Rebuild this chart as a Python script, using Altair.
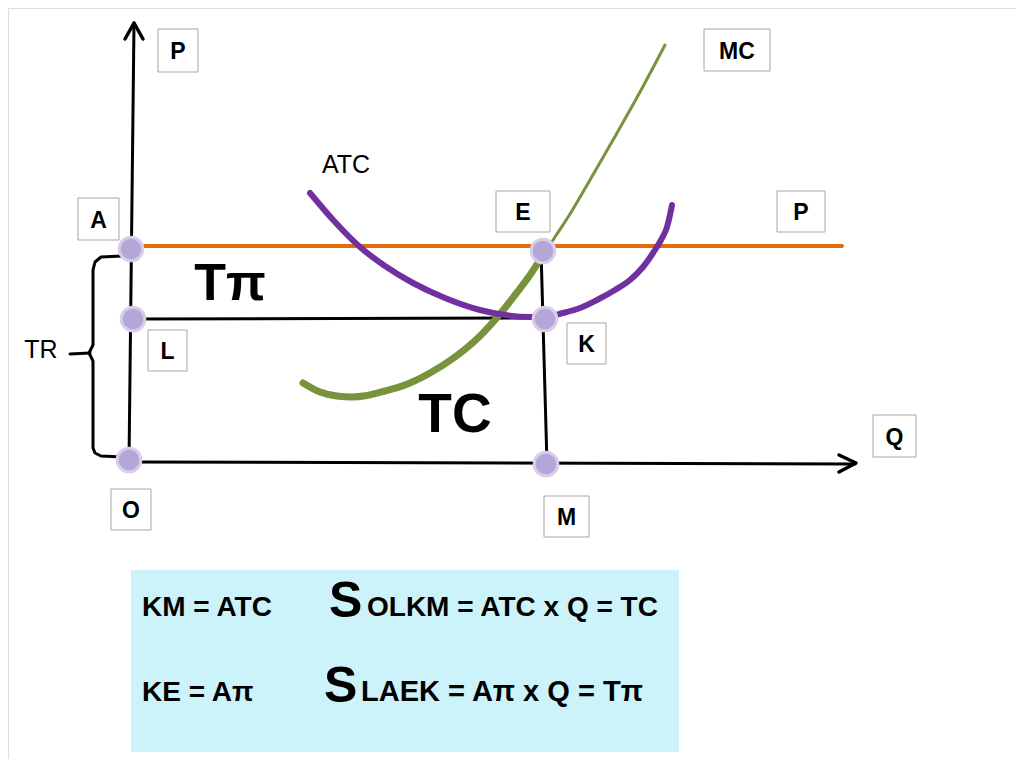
import altair as alt
import pandas as pd

# ---- geometry (pixel-like units, y grows downward) ----
line_ids = ["axis_y", "arrow_y", "axis_x", "arrow_x", "price", "LK", "EM", "brace", "brace_tip",
            "mc_low", "mc_high", "atc"]
line_x = [
    [129, 134],
    [125, 134, 143],
    [129, 855],
    [839, 856, 839],
    [131, 842],
    [133, 545],
    [541, 547],
    [122, 101, 95, 93, 93, 89, 93, 93, 95, 101, 122],
    [70, 90],
    [303, 320, 337, 352, 367, 385, 405, 430, 455, 480, 500, 515, 530, 543],
    [540, 555, 570, 590, 613, 640, 665],
    [310, 335, 360, 385, 413, 445, 480, 505, 530, 545, 563, 580, 597, 615, 630, 643, 653, 661, 667, 670, 672],
]
line_y = [
    [462, 23],
    [39, 23, 39],
    [462, 464],
    [455, 463, 472],
    [246, 246],
    [319, 318],
    [250, 464],
    [256, 257, 262, 270, 345, 353, 361, 448, 453, 456, 457],
    [354, 353],
    [383, 392, 396, 397, 395.5, 391, 385, 373, 357, 336, 314, 295, 275, 255],
    [260, 237, 214, 180, 140, 92, 45],
    [193, 222, 247, 266, 283, 298, 310, 315, 317, 317, 313, 308, 300, 290, 280, 267, 253, 240, 227, 215, 205],
]
line_color = ["#000000", "#000000", "#000000", "#000000", "#E46C0A", "#000000", "#000000", "#000000", "#000000",
              "#77933C", "#77933C", "#7030A0"]
line_width = [3, 3.5, 3, 3.5, 4, 3, 3, 3, 3, 7, 3, 6]

# marked points A, L, O, E, K, M
pt_names = ["A", "L", "O", "E", "K", "M"]
pt_x = [131, 133, 129, 543, 545, 546]
pt_y = [249, 319, 460, 251, 319, 464]

# boxed labels
box_labels = ["P", "MC", "P", "A", "L", "E", "K", "Q", "M", "O"]
box_x1 = [158, 704, 777, 78, 148, 496, 567, 873, 544, 111]
box_x2 = [198, 770, 825, 119, 187, 550, 606, 916, 589, 151]
box_y1 = [29, 29, 191, 198, 330, 191, 323, 415, 496, 489]
box_y2 = [72, 71, 232, 240, 371, 232, 364, 457, 537, 530]

# free text (y = baseline)
txt = ["Tπ", "TC", "ATC", "TR"]
txt_x = [230, 455, 346, 41]
txt_y = [300, 432, 173, 358]
txt_size = [52, 55, 25, 25]
txt_weight = ["bold", "bold", "normal", "normal"]

# formula panel (y = baseline)
panel_x = [131, 679]
panel_y = [570, 752]
f_text = ["KM = ATC", "S", "OLKM = ATC x Q = TC", "KE = Aπ", "S", "LAEK = Aπ x Q = Tπ"]
f_x = [142, 329, 367, 142, 324, 361]
f_y = [616, 617, 616, 701, 702, 701]
f_size = [28, 50, 28, 28, 50, 29]

# ---- tables ----
rows = []
for lid, xs, ys, c, w in zip(line_ids, line_x, line_y, line_color, line_width):
    for i, (xx, yy) in enumerate(zip(xs, ys)):
        rows.append({"id": lid, "o": i, "x": xx, "y": yy, "c": c, "w": w})
lines_df = pd.DataFrame(rows)
pts_df = pd.DataFrame({"n": pt_names, "x": pt_x, "y": pt_y})
box_df = pd.DataFrame({"t": box_labels, "x1": box_x1, "x2": box_x2, "y1": box_y1, "y2": box_y2})
box_df["xc"] = (box_df.x1 + box_df.x2) / 2
box_df["yb"] = (box_df.y1 + box_df.y2) / 2 + 8.5
txt_df = pd.DataFrame({"t": txt, "x": txt_x, "y": txt_y, "s": txt_size, "wt": txt_weight})
panel_df = pd.DataFrame({"x1": [panel_x[0]], "x2": [panel_x[1]], "y1": [panel_y[0]], "y2": [panel_y[1]]})
f_df = pd.DataFrame({"t": f_text, "x": f_x, "y": f_y, "s": f_size})

X = alt.Scale(domain=[8, 1016])
Y = alt.Scale(domain=[8, 759], reverse=True)
FONT = "Liberation Sans"

def xe(f="x"):
    return alt.X(f"{f}:Q", scale=X, axis=None)

def ye(f="y"):
    return alt.Y(f"{f}:Q", scale=Y, axis=None)

panel = alt.Chart(panel_df).mark_rect(color="#CCF2FA").encode(
    x=xe("x1"), x2="x2", y=ye("y1"), y2="y2")

def line_layer(ids, interp="linear"):
    return alt.Chart(lines_df[lines_df.id.isin(ids)]).mark_line(
        strokeCap="round", strokeJoin="round", interpolate=interp).encode(
        x=xe(), y=ye(), detail="id:N", order="o:Q",
        color=alt.Color("c:N", scale=None),
        strokeWidth=alt.StrokeWidth("w:Q", scale=None))

base_lines = line_layer(["axis_y", "arrow_y", "axis_x", "arrow_x", "price", "LK", "EM", "brace", "brace_tip"])
mc_lines = line_layer(["mc_low", "mc_high"], "monotone")
atc_line = line_layer(["atc"], "monotone")

points = alt.Chart(pts_df).mark_point(filled=True, size=560, fill="#B4A6D6", stroke="#D8CEEA",
                                      strokeWidth=3, opacity=1).encode(x=xe(), y=ye())

boxes = alt.Chart(box_df).mark_rect(fill="white", stroke="#A6A6A6", strokeWidth=1).encode(
    x=xe("x1"), x2="x2", y=ye("y1"), y2="y2")
box_text = alt.Chart(box_df).mark_text(font=FONT, fontWeight="bold", fontSize=23, color="black",
                                       baseline="alphabetic", align="center").encode(
    x=xe("xc"), y=ye("yb"), text="t:N")

bold_txt = alt.Chart(txt_df[txt_df.wt == "bold"]).mark_text(font=FONT, fontWeight="bold", color="black",
                                                          baseline="alphabetic", align="center").encode(
    x=xe(), y=ye(), text="t:N", size=alt.Size("s:Q", scale=None))
norm_txt = alt.Chart(txt_df[txt_df.wt == "normal"]).mark_text(font=FONT, color="black",
                                                            baseline="alphabetic", align="center").encode(
    x=xe(), y=ye(), text="t:N", size=alt.Size("s:Q", scale=None))

f_txt = alt.Chart(f_df).mark_text(font=FONT, fontWeight="bold", color="black",
                                  baseline="alphabetic", align="left").encode(
    x=xe(), y=ye(), text="t:N", size=alt.Size("s:Q", scale=None))

chart = alt.layer(panel, base_lines, mc_lines, atc_line, points, boxes, box_text, bold_txt, norm_txt, f_txt).properties(
    width=1008, height=751, padding=0, autosize=alt.AutoSizeParams(type="none")
).configure_view(strokeWidth=0, stroke="transparent").configure(background="white")

chart.save("out.html", embed_options={"renderer": "svg", "actions": False})
